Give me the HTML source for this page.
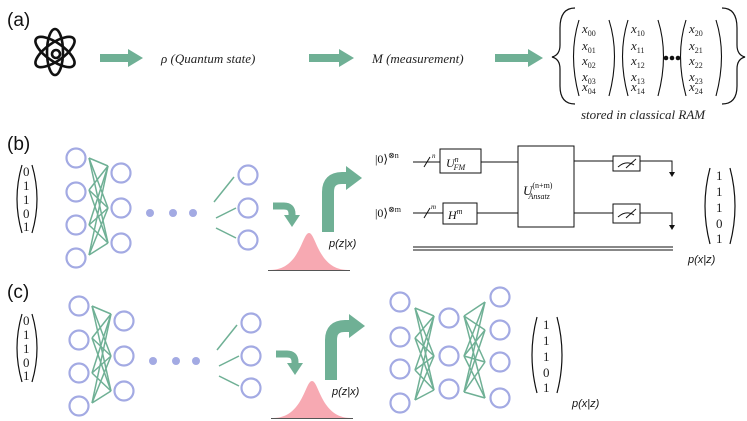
<!DOCTYPE html>
<html><head><meta charset="utf-8"><style>
html,body{margin:0;padding:0;background:#fff;width:747px;height:421px;overflow:hidden}
svg{display:block}
.lab{font-family:"Liberation Sans",sans-serif;font-size:19px;fill:#111}
.m{font-family:"Liberation Serif",serif;font-style:italic;font-size:13px;fill:#222}
.d{font-family:"Liberation Serif",serif;font-size:13px;fill:#222}
.s{font-family:"Liberation Sans",sans-serif;font-style:italic;font-size:11px;fill:#111}
.c{fill:none;stroke:#a3aae3;stroke-width:2.2}
.g{stroke:#6fb095;stroke-width:1.5}
</style></head><body>
<svg width="747" height="421" viewBox="0 0 747 421" xmlns="http://www.w3.org/2000/svg">
<defs>
<g id="enc">
 <g class="c">
  <circle cx="76" cy="158" r="9.5"/><circle cx="76" cy="192" r="9.5"/><circle cx="76" cy="225" r="9.5"/><circle cx="76" cy="258" r="9.5"/>
  <circle cx="121" cy="173" r="9.5"/><circle cx="121" cy="208" r="9.5"/><circle cx="121" cy="243" r="9.5"/>
  <circle cx="248" cy="175" r="9.5"/><circle cx="248" cy="208" r="9.5"/><circle cx="248" cy="240" r="9.5"/>
 </g>
 <g class="g">
  <line x1="89" y1="158" x2="108" y2="166"/><line x1="89" y1="158" x2="108" y2="208"/><line x1="89" y1="158" x2="108" y2="243"/>
  <line x1="89" y1="190" x2="108" y2="166"/><line x1="89" y1="190" x2="108" y2="208"/><line x1="89" y1="190" x2="108" y2="243"/>
  <line x1="89" y1="225" x2="108" y2="166"/><line x1="89" y1="225" x2="108" y2="208"/><line x1="89" y1="225" x2="108" y2="243"/>
  <line x1="89" y1="255" x2="108" y2="166"/><line x1="89" y1="255" x2="108" y2="208"/><line x1="89" y1="255" x2="108" y2="243"/>
  <line x1="214" y1="202" x2="234" y2="177"/><line x1="216" y1="218" x2="236" y2="208"/><line x1="216" y1="228" x2="236" y2="238"/>
 </g>
 <g fill="#a3aae3"><circle cx="150" cy="213" r="4"/><circle cx="173" cy="213" r="4"/><circle cx="193" cy="213" r="4"/></g>
 <path d="M270 270 C300 270 302 233 309 233 C316 233 318 270 348 270 Z" fill="#f7a9b2"/>
 <line x1="268" y1="270.5" x2="350" y2="270.5" stroke="#555" stroke-width="1"/>
 <path d="M273 206 L284 206 Q292 206 292 214 L292 216" fill="none" stroke="#6fb095" stroke-width="7"/>
 <polygon points="284,215 300,215 292,227" fill="#6fb095"/>
 <path d="M328 232 L328 192 Q328 178 342 178 L348 178" fill="none" stroke="#6fb095" stroke-width="12"/>
 <polygon points="346,166 362,178 346,190" fill="#6fb095"/>
 <text class="s" x="329" y="247">p(z|x)</text>
</g>
<g id="vin">
 <path d="M28 0 Q18 34 28 68" fill="none" stroke="#111" stroke-width="1.2"/>
 <path d="M38 0 Q48 34 38 68" fill="none" stroke="#111" stroke-width="1.2"/>
 <text class="d" x="29" y="11">0</text><text class="d" x="29" y="25">1</text><text class="d" x="29" y="39">1</text><text class="d" x="29" y="53">0</text><text class="d" x="29" y="66">1</text>
</g>
<g id="vout">
 <path d="M4 0 Q-6 38 4 76" fill="none" stroke="#111" stroke-width="1.2"/>
 <path d="M24 0 Q34 38 24 76" fill="none" stroke="#111" stroke-width="1.2"/>
 <text class="d" x="10" y="12">1</text><text class="d" x="10" y="28">1</text><text class="d" x="10" y="44">1</text><text class="d" x="10" y="60">0</text><text class="d" x="10" y="75">1</text>
</g>
</defs>

<!-- (a) -->
<text class="lab" x="7" y="26">(a)</text>
<g fill="none" stroke="#111" stroke-width="2.6">
 <ellipse cx="55" cy="52" rx="23" ry="9" transform="rotate(-35 55 52)"/>
 <ellipse cx="55" cy="52" rx="23" ry="9" transform="rotate(35 55 52)"/>
 <ellipse cx="55" cy="52" rx="8" ry="23"/>
 <circle cx="56" cy="54" r="4"/>
</g>
<polygon points="100,54 128,54 128,49 143,58 128,67 128,62 100,62" fill="#6fb095"/>
<polygon points="309,54 339,54 339,49 354,58 339,67 339,62 309,62" fill="#6fb095"/>
<polygon points="495,54 528,54 528,49 543,58 528,67 528,62 495,62" fill="#6fb095"/>
<text class="m" x="161" y="63">ρ (Quantum state)</text>
<text class="m" x="372" y="63">M (measurement)</text>
<path d="M575 8 Q560 8 560 28 L560 45 Q560 55 552 57 Q560 59 560 69 L560 86 Q560 104 575 104" fill="none" stroke="#111" stroke-width="1.2"/>
<path d="M722 8 Q737 8 737 28 L737 45 Q737 55 745 57 Q737 59 737 69 L737 86 Q737 104 722 104" fill="none" stroke="#111" stroke-width="1.2"/>
<g fill="none" stroke="#111" stroke-width="1.1">
 <path d="M579 20 Q568 55 579 96"/><path d="M609 20 Q620 55 609 96"/>
 <path d="M628 20 Q617 55 628 96"/><path d="M658 20 Q669 55 658 96"/>
 <path d="M686 20 Q675 55 686 96"/><path d="M716 20 Q727 55 716 96"/>
</g>
<g class="m" font-size="12">
 <text x="582" y="33">x<tspan font-size="8" font-style="normal" dy="3">00</tspan></text>
 <text x="582" y="50">x<tspan font-size="8" font-style="normal" dy="3">01</tspan></text>
 <text x="582" y="65">x<tspan font-size="8" font-style="normal" dy="3">02</tspan></text>
 <text x="582" y="81">x<tspan font-size="8" font-style="normal" dy="3">03</tspan></text>
 <text x="582" y="91">x<tspan font-size="8" font-style="normal" dy="3">04</tspan></text>
 <text x="631" y="33">x<tspan font-size="8" font-style="normal" dy="3">10</tspan></text>
 <text x="631" y="50">x<tspan font-size="8" font-style="normal" dy="3">11</tspan></text>
 <text x="631" y="65">x<tspan font-size="8" font-style="normal" dy="3">12</tspan></text>
 <text x="631" y="81">x<tspan font-size="8" font-style="normal" dy="3">13</tspan></text>
 <text x="631" y="91">x<tspan font-size="8" font-style="normal" dy="3">14</tspan></text>
 <text x="689" y="33">x<tspan font-size="8" font-style="normal" dy="3">20</tspan></text>
 <text x="689" y="50">x<tspan font-size="8" font-style="normal" dy="3">21</tspan></text>
 <text x="689" y="65">x<tspan font-size="8" font-style="normal" dy="3">22</tspan></text>
 <text x="689" y="81">x<tspan font-size="8" font-style="normal" dy="3">23</tspan></text>
 <text x="689" y="91">x<tspan font-size="8" font-style="normal" dy="3">24</tspan></text>
</g>
<g fill="#111"><circle cx="666" cy="58" r="2.3"/><circle cx="672" cy="58" r="2.3"/><circle cx="678" cy="58" r="2.3"/></g>
<text class="m" x="581" y="119" font-size="12.5">stored in classical RAM</text>

<!-- (b) -->
<text class="lab" x="7" y="150">(b)</text>
<use href="#vin" transform="translate(-6,165)"/>
<use href="#enc"/>
<g font-family="Liberation Serif,serif" font-size="12" fill="#111">
 <text x="375" y="163">|0⟩<tspan font-size="8" dy="-5">⊗n</tspan></text>
 <text x="375" y="217">|0⟩<tspan font-size="8" dy="-5">⊗m</tspan></text>
</g>
<g stroke="#111" stroke-width="1" fill="none">
 <line x1="413" y1="162" x2="440" y2="162"/><line x1="481" y1="162" x2="518" y2="162"/>
 <line x1="413" y1="213" x2="443" y2="213"/><line x1="477" y1="213" x2="518" y2="213"/>
 <line x1="424" y1="167" x2="430" y2="157"/><line x1="424" y1="218" x2="430" y2="208"/>
 <rect x="440" y="149" width="41" height="24" fill="#fff"/>
 <rect x="443" y="203" width="34" height="21" fill="#fff"/>
 <rect x="518" y="146" width="56" height="81" fill="#fff"/>
 <line x1="574" y1="161" x2="613" y2="161"/><line x1="574" y1="213" x2="613" y2="213"/>
 <rect x="613" y="156" width="27" height="15"/><rect x="613" y="204" width="27" height="19"/>
 <path d="M618 167 Q626 160 634 165"/><line x1="626" y1="168" x2="636" y2="159"/>
 <path d="M618 217 Q626 210 634 215"/><line x1="626" y1="218" x2="636" y2="209"/>
 <polyline points="640,161 672,161 672,173"/><polyline points="640,213 672,213 672,226"/>
 <line x1="413" y1="247" x2="673" y2="247"/><line x1="413" y1="250" x2="673" y2="250"/>
</g>
<polygon points="669,172 675,172 672,177" fill="#111"/><polygon points="669,225 675,225 672,230" fill="#111"/>
<g font-family="Liberation Serif,serif" font-style="italic" fill="#111">
 <text x="432" y="158" font-size="7">n</text><text x="431" y="209" font-size="7">m</text>
 <text x="446" y="167" font-size="12">U<tspan font-size="8" dy="-5">n</tspan><tspan font-size="8" dx="-5" dy="8">FM</tspan></text>
 <text x="448" y="219" font-size="12">H<tspan font-size="8" dy="-5">m</tspan></text>
 <text x="523" y="195" font-size="13">U<tspan font-size="8" font-style="normal" dy="-7">(n+m)</tspan><tspan font-size="8" dx="-24" dy="11">Ansatz</tspan></text>
</g>
<use href="#vout" transform="translate(706,168)"/>
<text class="s" x="688" y="263">p(x|z)</text>

<!-- (c) -->
<text class="lab" x="7" y="298">(c)</text>
<use href="#vin" transform="translate(-6,314)"/>
<use href="#enc" transform="translate(3,148)"/>
<g class="c">
 <circle cx="400" cy="302" r="9.5"/><circle cx="400" cy="337" r="9.5"/><circle cx="400" cy="369" r="9.5"/><circle cx="400" cy="403" r="9.5"/>
 <circle cx="449" cy="318" r="9.5"/><circle cx="449" cy="356" r="9.5"/><circle cx="449" cy="389" r="9.5"/>
 <circle cx="500" cy="297" r="9.5"/><circle cx="500" cy="330" r="9.5"/><circle cx="500" cy="362" r="9.5"/><circle cx="500" cy="398" r="9.5"/>
</g>
<g class="g">
 <line x1="415" y1="308" x2="434" y2="316"/><line x1="415" y1="308" x2="434" y2="356"/><line x1="415" y1="308" x2="434" y2="390"/>
 <line x1="415" y1="338" x2="434" y2="316"/><line x1="415" y1="338" x2="434" y2="356"/><line x1="415" y1="338" x2="434" y2="390"/>
 <line x1="415" y1="370" x2="434" y2="316"/><line x1="415" y1="370" x2="434" y2="356"/><line x1="415" y1="370" x2="434" y2="390"/>
 <line x1="415" y1="400" x2="434" y2="316"/><line x1="415" y1="400" x2="434" y2="356"/><line x1="415" y1="400" x2="434" y2="390"/>
 <line x1="464" y1="316" x2="485" y2="302"/><line x1="464" y1="316" x2="485" y2="330"/><line x1="464" y1="316" x2="485" y2="362"/><line x1="464" y1="316" x2="485" y2="398"/>
 <line x1="464" y1="356" x2="485" y2="302"/><line x1="464" y1="356" x2="485" y2="330"/><line x1="464" y1="356" x2="485" y2="362"/><line x1="464" y1="356" x2="485" y2="398"/>
 <line x1="464" y1="392" x2="485" y2="302"/><line x1="464" y1="392" x2="485" y2="330"/><line x1="464" y1="392" x2="485" y2="362"/><line x1="464" y1="392" x2="485" y2="398"/>
</g>
<use href="#vout" transform="translate(533,317)"/>
<text class="s" x="572" y="407">p(x|z)</text>
</svg>
</body></html>
